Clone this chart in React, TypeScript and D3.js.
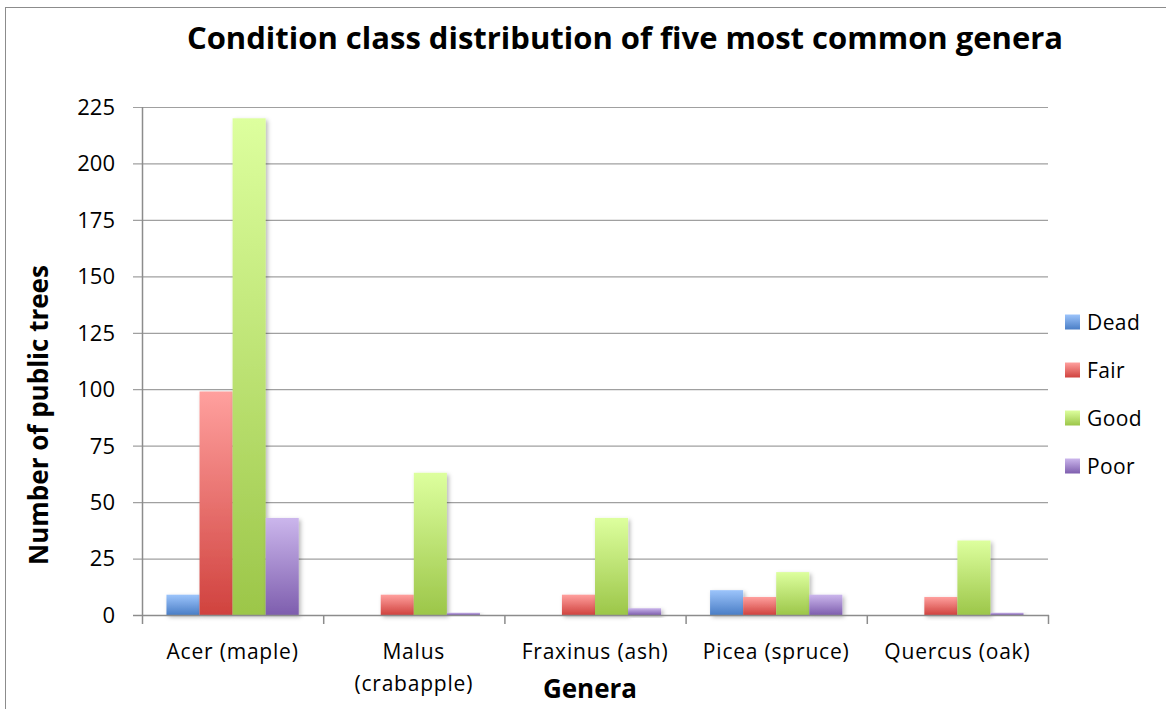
import * as d3 from "d3";

const genera = ["Acer (maple)", "Malus (crabapple)", "Fraxinus (ash)", "Picea (spruce)", "Quercus (oak)"];
const genusLines = [["Acer (maple)"], ["Malus", "(crabapple)"], ["Fraxinus (ash)"], ["Picea (spruce)"], ["Quercus (oak)"]];
const classes = ["Dead", "Fair", "Good", "Poor"];

const dead = [9, 0, 0, 11, 0];
const fair = [99, 9, 9, 8, 8];
const good = [220, 63, 43, 19, 33];
const poor = [43, 1, 3, 9, 1];

const yTicks = [0, 25, 50, 75, 100, 125, 150, 175, 200, 225];

// top / bottom of each bar gradient
const gradTop = ["#9cc4fb", "#ffa09e", "#ddff9e", "#cbb6ec"];
const gradBottom = ["#4a7ec6", "#d0423e", "#9cc649", "#7e5eae"];

const W = 1166;
const H = 709;
const FONT = "'Open Sans', 'DejaVu Sans', sans-serif";

export default function App() {
  const series = [dead, fair, good, poor];
  const left = 142;
  const right = 1048;
  const top = 107;
  const bottom = 615;

  const x0 = d3.scaleBand<string>().domain(genera).range([left, right]).padding(0);
  const bw = x0.bandwidth();
  const x1 = d3
    .scaleBand<string>()
    .domain(classes)
    .range([bw * 0.135, bw * 0.865])
    .padding(0);
  const y = d3.scaleLinear().domain([0, 225]).range([bottom, top]);

  return (
    <svg
      width={W}
      height={H}
      style={{ position: "absolute", left: 0, top: 0, background: "#fff" }}
      fontFamily={FONT}
    >
      <defs>
        {classes.map((c, i) => (
          <linearGradient key={c} id={`g-${c}`} x1="0" y1="0" x2="0" y2="1">
            <stop offset="0" stopColor={gradTop[i]} />
            <stop offset="1" stopColor={gradBottom[i]} />
          </linearGradient>
        ))}
        <filter id="shadow" x="-20%" y="-20%" width="150%" height="150%">
          <feDropShadow dx="2" dy="2" stdDeviation="2" floodColor="#000" floodOpacity="0.28" />
        </filter>
      </defs>

      {/* outer frame */}
      <rect x={5.5} y={7.5} width={1200} height={760} fill="#fff" stroke="#8c8c8c" strokeWidth={1} />

      {/* title */}
      <text x={625} y={49} textAnchor="middle" fontSize={31} fontWeight="bold" fill="#000">
        Condition class distribution of five most common genera
      </text>

      {/* gridlines + y ticks */}
      {yTicks.map((t) => (
        <g key={t}>
          {t > 0 && (
            <line x1={133} x2={right} y1={y(t) + 0.5} y2={y(t) + 0.5} stroke="#a0a0a0" strokeWidth={1.2} />
          )}
          {t === 0 && <line x1={133} x2={left} y1={y(t) + 0.5} y2={y(t) + 0.5} stroke="#8c8c8c" strokeWidth={1.5} />}
          <text x={115} y={y(t)} dy="0.36em" textAnchor="end" fontSize={22} fill="#000">
            {t}
          </text>
        </g>
      ))}

      {/* bars */}
      {genera.map((g, gi) => (
        <g key={g} transform={`translate(${x0(g)},0)`}>
          {classes.map((c, ci) => {
            const v = series[ci][gi];
            if (v <= 0) return null;
            return (
              <rect
                key={c}
                x={x1(c)}
                y={y(v)}
                width={x1.bandwidth()}
                height={y(0) - y(v)}
                fill={`url(#g-${c})`}
                filter="url(#shadow)"
              />
            );
          })}
        </g>
      ))}

      {/* axes */}
      <line x1={left + 0.5} x2={left + 0.5} y1={top} y2={bottom + 1} stroke="#8c8c8c" strokeWidth={1.5} />
      <line x1={left} x2={right + 1} y1={bottom + 0.5} y2={bottom + 0.5} stroke="#8c8c8c" strokeWidth={1.5} />
      {[...genera.map((g) => x0(g)!), right].map((px, i) => (
        <line key={i} x1={px + 0.5} x2={px + 0.5} y1={bottom} y2={bottom + 9} stroke="#8c8c8c" strokeWidth={1.5} />
      ))}

      {/* x labels */}
      {genera.map((g, gi) => (
        <text
          key={g}
          x={x0(g)! + bw / 2}
          y={659}
          textAnchor="middle"
          fontSize={21}
          letterSpacing={0.8}
          fill="#000"
        >
          {genusLines[gi].map((ln, li) => (
            <tspan key={li} x={x0(g)! + bw / 2} dy={li === 0 ? 0 : 32}>
              {ln}
            </tspan>
          ))}
        </text>
      ))}

      <text x={590} y={698} textAnchor="middle" fontSize={26} fontWeight="bold" fill="#000">
        Genera
      </text>

      <text
        transform={`translate(48,415) rotate(-90)`}
        textAnchor="middle"
        fontSize={26}
        fontWeight="bold"
        fill="#000"
      >
        Number of public trees
      </text>

      {/* legend */}
      {classes.map((c, i) => (
        <g key={c} transform={`translate(1065,${322 + i * 48})`}>
          <rect x={0} y={-7.5} width={15} height={15} fill={`url(#g-${c})`} />
          <text x={22} y={0} dy="0.36em" fontSize={21} letterSpacing={0.4} fill="#000">
            {c}
          </text>
        </g>
      ))}
    </svg>
  );
}
